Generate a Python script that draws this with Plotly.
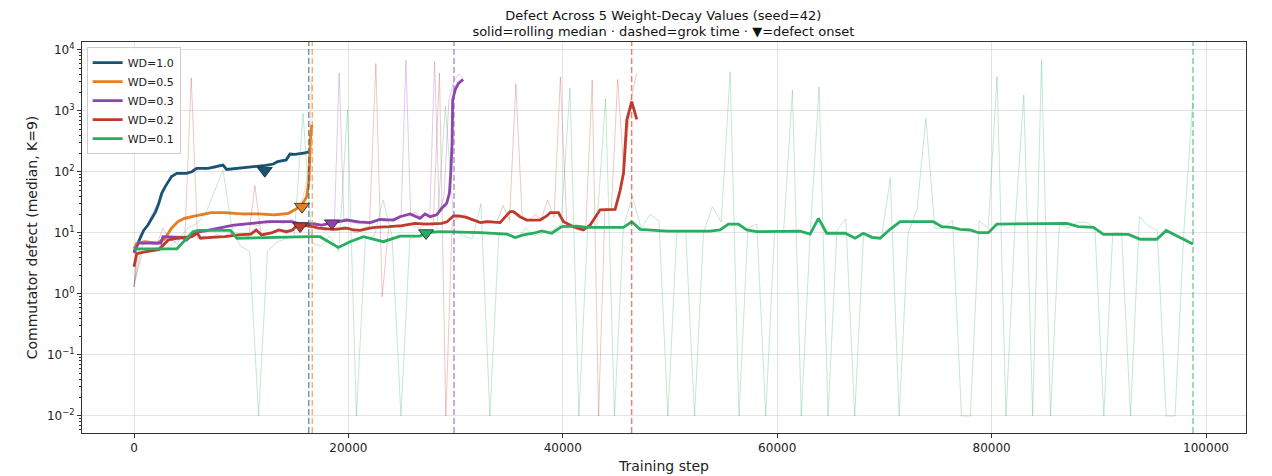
import numpy as np
import plotly.graph_objects as go

# ---------------- data ----------------
LABELS = ["WD=1.0", "WD=0.5", "WD=0.3", "WD=0.2", "WD=0.1"]
COLORS = ["#1a5276", "#e67e22", "#8e44ad", "#c0392b", "#27ae60"]

# last logged step of each run (raw points are evenly spaced from 0)
RAW_END = [16260, 16580, 30705, 46900, 98770]

RAW_WD10 = [1.3, 6, 9, 11, 12.5, 15, 20, 24, 30, 45, 55, 62, 75, 85, 90, 98, 92, 97, 100, 95,
            110, 118, 112, 120, 108, 115, 118, 112, 120, 135, 125, 110, 115, 108, 118, 112, 120, 115, 125, 118,
            122, 128, 120, 130, 125, 135, 130, 140, 145, 150, 148, 155, 160, 190, 200, 195, 210, 205, 220, 210]
RAW_WD05 = [1.3, 5.5, 7, 6.5, 7, 6.8, 7, 6.5, 7.5, 6.8, 8, 9.5, 11, 12.5, 14, 15.5, 16, 17, 16.5, 18,
            19, 18.5, 20, 19, 20.5, 22, 21, 22, 21, 20.5, 22, 21, 20, 21, 19.5, 21, 20, 19, 21, 20,
            20.5, 19.5, 21, 20, 19, 20, 19.5, 21, 19, 20, 18.5, 21, 20, 24, 27, 30, 38, 60, 150, 3300]
RAW_WD03 = [1.3, 5, 6.5, 7, 6.5, 7, 12, 9, 8, 6.5, 9, 7.5, 9, 10, 11, 10, 11.5, 12, 11, 12.5,
            13, 12, 14, 13, 15, 14, 13, 15, 14, 15, 16, 14, 15, 17, 14, 15, 13, 14, 15, 13,
            14, 16, 14, 4200, 17, 16, 15, 14, 16, 15, 14, 17, 16, 15, 17, 18, 20, 6800, 19, 22,
            18, 20, 19, 6500, 22, 40, 1500, 3000, 4000, 3500]
RAW_WD02 = [1.3, 4.5, 5, 5.5, 6, 8, 7.5, 8.5, 9, 3500, 8, 9, 8, 9.5, 8.5, 10, 9, 9.5, 8.5, 60,
            9, 10, 10, 11, 10, 12, 14, 13, 12, 14, 11, 12, 11, 13, 11, 10, 12, 13, 6000, 0.9,
            12, 13, 12, 14, 13, 12, 15, 13, 4200, 0.01, 15, 18, 20, 17, 16, 14, 16, 15, 28, 16,
            2800, 18, 16, 20, 17, 35, 18, 3600, 14, 12, 11, 13, 3200, 0.01, 25, 24, 3300, 90, 1400, 4200]
RAW_WD01 = [1.5, 5, 5.5, 5, 6, 8, 12, 14, 20, 45, 107, 12, 6, 5, 0.01, 5, 7, 8, 9, 920,
            7, 6, 9, 5, 1050, 0.01, 8, 9, 35, 9, 0.01, 8, 9, 10, 10, 1200, 11, 9, 8, 30,
            0.01, 9, 10, 8, 12, 9, 10, 11, 14, 2400, 0.01, 13, 12, 1600, 0.01, 12, 40, 12, 20, 16,
            0.01, 10, 11, 0.01, 10, 27, 15, 4400, 0.01, 12, 14, 0.01, 11, 10, 2200, 0.01, 10, 2500, 0.01, 11,
            17, 0.01, 10, 9, 8, 79, 0.01, 10, 24, 760, 12, 12, 16, 0.01, 0.01, 16, 12, 3650, 0.01, 12,
            1830, 0.01, 6900, 0.01, 14, 12, 15, 15, 12, 0.01, 10, 10, 0.01, 18.5, 13, 11, 0.01, 0.01, 11, 1500]
RAW_VALUES = [RAW_WD10, RAW_WD05, RAW_WD03, RAW_WD02, RAW_WD01]

# rolling median (solid lines)
MED_STEPS_WD10 = [0, 300, 600, 900, 1300, 1650, 2000, 2300, 2600, 2900, 3200, 3500, 4000, 4900, 5400, 5850,
                  6900, 7500, 8300, 8650, 9100, 10000, 11000, 12300, 13000, 13400, 14200, 14550, 15000, 15500, 16000, 16260]
MED_VALS_WD10 = [4.9, 6.5, 8.7, 11, 13.5, 17, 22, 30, 45, 57, 69, 84, 95, 95, 101, 115,
                 115, 120, 130, 110, 112, 118, 122, 128, 135, 148, 158, 197, 195, 200, 205, 215]
MED_STEPS_WD05 = [0, 250, 1000, 2200, 2900, 3500, 4100, 4700, 5400, 6300, 7200, 8500, 10000, 11600, 13100,
                  14400, 15000, 15650, 16100, 16330, 16450, 16580]
MED_VALS_WD05 = [5.5, 6.8, 7.2, 6.8, 8.2, 12, 15.4, 17.4, 18.6, 19.8, 21.5, 21.5, 20.5, 20.5, 19.8,
                 21, 24, 28.8, 39, 74, 333, 590]
MED_STEPS_WD03 = [0, 400, 2500, 2700, 4500, 4900, 5600, 6900, 8500, 9300, 11000, 12500, 14700, 15300, 16730,
                  17500, 18600, 19850, 21090, 22020, 22950, 24200, 24820, 25750, 26680, 27150, 27620, 28240,
                  28710, 29170, 29420, 29550, 29670, 29730, 29950, 30260, 30705]
MED_VALS_WD03 = [4.7, 6.8, 6.8, 8.7, 8.5, 7.7, 10, 11.2, 12.7, 13.5, 14.4, 15.3, 15.3, 14.4, 14.1,
                 13.5, 14.8, 16.3, 15.1, 14.8, 16.7, 16.3, 18.5, 20.5, 17.4, 20.5, 18.5, 19.8,
                 25.4, 30.7, 44.6, 95, 295, 1515, 2200, 2840, 3300]
MED_STEPS_WD02 = [0, 250, 1000, 2300, 2600, 3200, 4100, 5400, 5900, 6200, 7200, 8500, 9700, 10900, 11400,
                  11900, 12800, 13500, 14200, 14800, 15200, 15500, 16700, 17200, 18600, 19850, 20500, 21100,
                  22000, 22500, 23800, 25000, 26200, 27300, 28700, 29200, 29800, 30300, 31000, 31700, 32300,
                  32900, 34150, 35080, 35400, 36010, 36640, 37880, 38500, 38830, 39600, 40060, 41000, 41920,
                  42550, 43480, 44410, 44880, 45350, 45660, 45970, 46430, 46900]
MED_VALS_WD02 = [2.8, 4.6, 4.9, 5.3, 6.0, 7.7, 8.2, 8.7, 10, 8.2, 8.5, 8.7, 9.3, 9.6, 11.2,
                 9.3, 10, 11.2, 10.5, 11.2, 13.5, 13.5, 12.7, 12, 11.5, 12, 11.2, 11,
                 12, 12.4, 12.7, 13.2, 14.4, 14, 14.4, 15.3, 19, 19, 18, 16.3, 14.8,
                 15.3, 14.8, 22.4, 22.4, 18.5, 16.3, 16.3, 19, 21.5, 21.5, 15.3, 12.7, 11.2,
                 13.5, 24, 24.4, 24.4, 50, 95, 710, 1420, 730]
MED_STEPS_WD01 = [0, 4000, 5500, 6000, 9000, 9600, 16400, 17350, 19060, 20150, 21400, 23260, 24820, 26680,
                  27300, 28550, 32280, 33840, 34770, 35550, 36330, 37260, 38040, 38970, 39900, 41300, 42240,
                  45660, 46430, 47210, 48450, 49700, 53740, 54670, 55450, 56380, 57160, 58090, 62140, 63070,
                  63850, 64620, 66340, 67270, 68040, 68820, 69600, 70530, 71470, 74570, 75350, 76280, 77060,
                  77990, 78770, 79700, 80490, 84530, 85460, 87020, 88100, 89500, 90430, 92770, 93860, 95410,
                  96280, 97900, 98770]
MED_VALS_WD01 = [5.5, 5.5, 10.5, 11, 11, 8.2, 8.7, 8.7, 5.8, 7.2, 8.7, 7.2, 8.9, 8.9,
                 10.1, 10.5, 10.1, 9.9, 9.6, 8.4, 9.3, 9.9, 10.8, 9.9, 12.7, 13, 12.4,
                 12.4, 15.3, 11.5, 11.2, 10.7, 10.7, 11.2, 14, 14, 11.2, 10.5, 10.7, 9.6,
                 17.4, 9.9, 9.9, 8.2, 9.9, 8.5, 8.2, 11.5, 15.3, 15.3, 12.7, 12.4, 11.5,
                 11.2, 10.1, 10.1, 14, 14, 14.4, 14.4, 12.7, 12.4, 9.5, 9.5, 7.9, 7.9,
                 11, 7.9, 6.6]
MED_STEPS = [MED_STEPS_WD10, MED_STEPS_WD05, MED_STEPS_WD03, MED_STEPS_WD02, MED_STEPS_WD01]
MED_VALS = [MED_VALS_WD10, MED_VALS_WD05, MED_VALS_WD03, MED_VALS_WD02, MED_VALS_WD01]

GROK_STEP = [16300, 16630, 29850, 46420, 98790]
ONSET_STEP = [12200, 15670, 18470, 15500, 27240]
ONSET_VAL = [105, 27, 14.5, 13, 10]

TITLE = "Defect Across 5 Weight-Decay Values (seed=42)<br>solid=rolling median · dashed=grok time · ▼=defect onset"
XLABEL = "Training step"
YLABEL = "Commutator defect (median, K=9)"
X_TICKS = [0, 20000, 40000, 60000, 80000, 100000]
Y_TICKS = [1e-2, 1e-1, 1e0, 1e1, 1e2, 1e3, 1e4]
Y_TICKTEXT = ["10<sup>−2</sup>", "10<sup>−1</sup>", "10<sup>0</sup>", "10<sup>1</sup>",
              "10<sup>2</sup>", "10<sup>3</sup>", "10<sup>4</sup>"]

# ---------------- figure ----------------
FONT = "DejaVu Sans"
fig = go.Figure()


def rgba(hex_color, a):
    h = hex_color.lstrip("#")
    r, g, b = int(h[0:2], 16), int(h[2:4], 16), int(h[4:6], 16)
    return f"rgba({r},{g},{b},{a})"


for i in range(5):
    vals = RAW_VALUES[i]
    xs = np.linspace(0, RAW_END[i], len(vals))
    fig.add_trace(go.Scatter(x=xs, y=vals, mode="lines", showlegend=False, hoverinfo="skip",
                             line=dict(color=rgba(COLORS[i], 0.28), width=1)))
    fig.add_trace(go.Scatter(x=MED_STEPS[i], y=MED_VALS[i], mode="lines", name=LABELS[i],
                             line=dict(color=COLORS[i], width=2.8)))
    fig.add_vline(x=GROK_STEP[i], line=dict(color=rgba(COLORS[i], 0.6), width=1.5, dash="6px,3px"))

for i in range(5):
    fig.add_trace(go.Scatter(x=[ONSET_STEP[i]], y=[ONSET_VAL[i]], mode="markers", showlegend=False,
                             marker=dict(symbol="triangle-down", size=13, color=COLORS[i],
                                         line=dict(color="#222222", width=0.8))))

minor_vals = [m * 10.0 ** e for e in range(-3, 5) for m in range(2, 10)]

fig.update_layout(
    width=1272, height=476,
    margin=dict(l=82, r=26, t=42, b=43),
    paper_bgcolor="white", plot_bgcolor="white",
    font=dict(family=FONT, size=12, color="#222222"),
    title=dict(text=TITLE, x=0.5215, xanchor="center", y=1 - 19.5 / 476, yanchor="middle",
               font=dict(family=FONT, size=13, color="#111111")),
    legend=dict(x=0.004, y=0.987, xanchor="left", yanchor="top",
                bgcolor="rgba(255,255,255,0.85)", bordercolor="#cccccc", borderwidth=1,
                font=dict(family=FONT, size=11), tracegroupgap=0, itemwidth=30),
    showlegend=True,
)
fig.update_xaxes(
    range=[-4851, 103731], tickvals=X_TICKS, ticktext=[str(v) for v in X_TICKS],
    showgrid=True, gridcolor="rgba(176,176,176,0.35)", gridwidth=1, zeroline=False,
    showline=True, linecolor="#333333", linewidth=1, mirror=True, automargin=False,
    ticks="outside", ticklen=4, tickcolor="#333333",
    title=dict(text=XLABEL, font=dict(family=FONT, size=14), standoff=6),
    tickfont=dict(family=FONT, size=12),
)
fig.update_yaxes(
    type="log", range=[-2.279, 4.131], tickvals=Y_TICKS, ticktext=Y_TICKTEXT,
    showgrid=True, gridcolor="rgba(176,176,176,0.35)", gridwidth=1, zeroline=False,
    showline=True, linecolor="#333333", linewidth=1, mirror=True, automargin=False,
    ticks="outside", ticklen=4, tickcolor="#333333",
    minor=dict(tickvals=minor_vals, ticks="outside", ticklen=2, tickcolor="#333333", showgrid=False),
    title=dict(text=YLABEL, font=dict(family=FONT, size=14), standoff=6),
    tickfont=dict(family=FONT, size=12),
)

fig.write_html("out.html")
